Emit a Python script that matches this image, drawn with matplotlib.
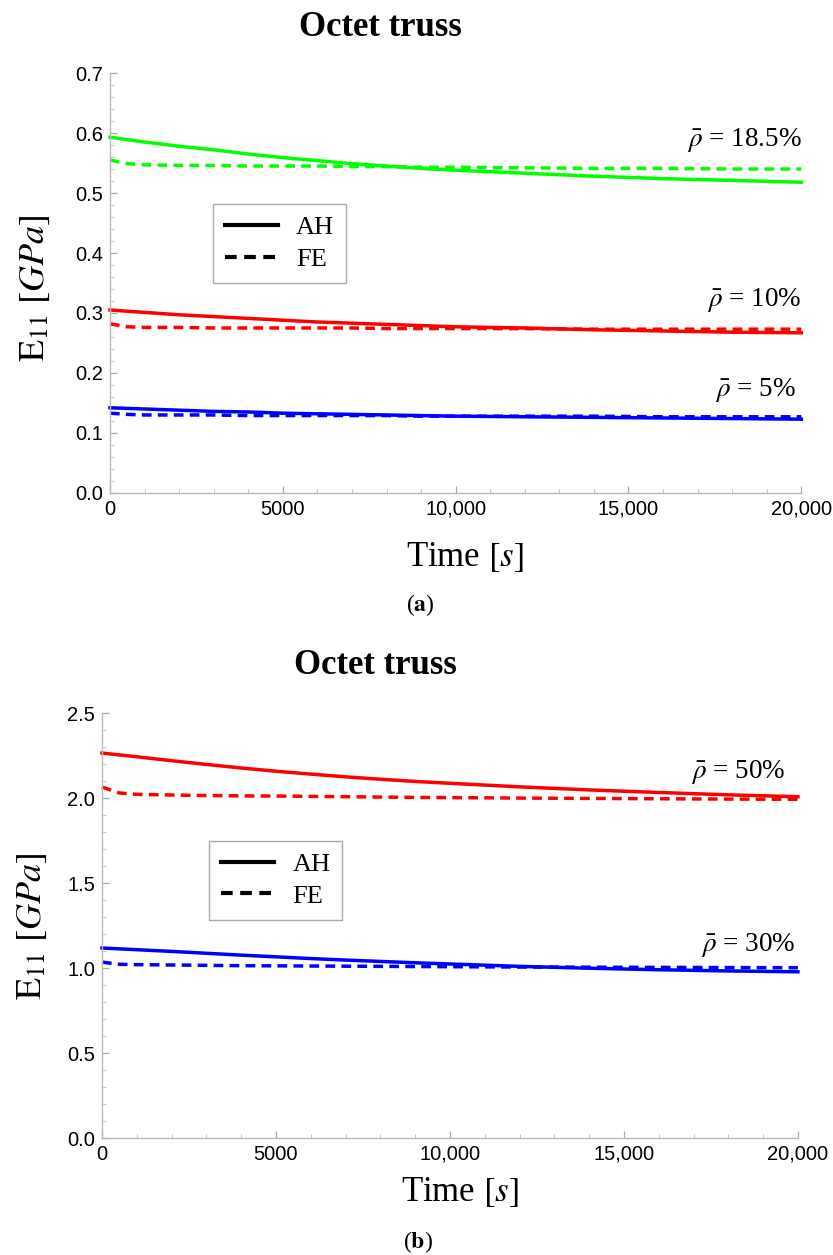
import numpy as np
import matplotlib
matplotlib.use("Agg")
import matplotlib.pyplot as plt
from matplotlib.lines import Line2D
from matplotlib.ticker import MultipleLocator

plt.rcParams["mathtext.fontset"] = "stix"

SANS = ["Liberation Sans", "DejaVu Sans"]
SERIF = ["Liberation Serif", "DejaVu Serif"]

# time grid (s)
time_s = [0, 500, 1000, 2000, 3000, 4000, 5000, 6000, 7000, 8000,
          9000, 10000, 12000, 14000, 16000, 18000, 20000]

# (a) E11 [GPa]
a_185_ah = [0.593, 0.589, 0.585, 0.578, 0.572, 0.565, 0.559, 0.554, 0.549,
            0.545, 0.541, 0.538, 0.533, 0.528, 0.524, 0.521, 0.518]
a_185_fe = [0.555, 0.549, 0.547, 0.546, 0.546, 0.545, 0.545, 0.545, 0.544,
            0.544, 0.543, 0.543, 0.542, 0.541, 0.541, 0.540, 0.540]
a_10_ah = [0.305, 0.303, 0.301, 0.297, 0.294, 0.291, 0.288, 0.285, 0.283,
           0.281, 0.279, 0.277, 0.275, 0.272, 0.270, 0.268, 0.267]
a_10_fe = [0.282, 0.277, 0.276, 0.276, 0.275, 0.275, 0.275, 0.275, 0.275,
           0.274, 0.274, 0.274, 0.274, 0.273, 0.273, 0.273, 0.273]
a_5_ah = [0.142, 0.141, 0.140, 0.138, 0.136, 0.135, 0.133, 0.132, 0.131,
          0.130, 0.129, 0.128, 0.127, 0.126, 0.125, 0.124, 0.123]
a_5_fe = [0.133, 0.131, 0.130, 0.130, 0.130, 0.129, 0.129, 0.129, 0.129,
          0.129, 0.128, 0.128, 0.128, 0.128, 0.127, 0.127, 0.127]

# (b) E11 [GPa]
b_50_ah = [2.265, 2.254, 2.243, 2.220, 2.198, 2.177, 2.158, 2.141, 2.125,
           2.111, 2.098, 2.087, 2.066, 2.048, 2.033, 2.019, 2.008]
b_50_fe = [2.065, 2.030, 2.022, 2.018, 2.015, 2.013, 2.012, 2.010, 2.008,
           2.006, 2.004, 2.003, 2.000, 1.998, 1.996, 1.994, 1.993]
b_30_ah = [1.118, 1.113, 1.108, 1.098, 1.087, 1.076, 1.066, 1.056, 1.047,
           1.039, 1.031, 1.024, 1.010, 0.999, 0.990, 0.983, 0.978]
b_30_fe = [1.035, 1.022, 1.020, 1.018, 1.016, 1.014, 1.013, 1.012, 1.011,
           1.010, 1.009, 1.008, 1.006, 1.005, 1.004, 1.003, 1.002]

x_ticks = [0, 5000, 10000, 15000, 20000]
x_tick_labels = ["0", "5000", "10,000", "15,000", "20,000"]

GREEN = "#00ff00"
RED = "#ff0000"
BLUE = "#0000ff"
DASH = (0, (2.8, 1.8))
LW = 2.5


def style_axes(ax, ymax, ystep, yminor):
    ax.set_xlim(0, 20000)
    ax.set_ylim(0, ymax)
    for s in ("top", "right"):
        ax.spines[s].set_visible(False)
    for s in ("left", "bottom"):
        ax.spines[s].set_color("#b8b8b8")
        ax.spines[s].set_linewidth(1.0)
    ax.set_xticks(x_ticks)
    ax.set_xticklabels(x_tick_labels)
    ax.xaxis.set_minor_locator(MultipleLocator(1000))
    ax.yaxis.set_major_locator(MultipleLocator(ystep))
    ax.yaxis.set_minor_locator(MultipleLocator(yminor))
    ax.set_yticklabels(["{:.1f}".format(v) for v in ax.get_yticks()])
    ax.tick_params(which="major", direction="in", length=5, width=0.9,
                   color="#a8a8a8", labelsize=14.5, pad=5)
    ax.tick_params(which="minor", direction="in", length=3, width=0.7,
                   color="#c4c4c4")
    for lab in ax.get_xticklabels() + ax.get_yticklabels():
        lab.set_family(SANS)


def add_legend(ax, anchor):
    handles = [Line2D([], [], color="black", lw=LW + 0.5, ls="-"),
               Line2D([], [], color="black", lw=LW + 0.5, ls=DASH)]
    leg = ax.legend(handles, ["AH", "FE"], loc="upper left",
                    bbox_to_anchor=anchor, borderaxespad=0, fancybox=False,
                    edgecolor="#a8a8a8", framealpha=1, handlelength=2.0,
                    prop={"family": SERIF, "size": 19}, labelspacing=0.3,
                    borderpad=0.45, handletextpad=0.7)
    leg.get_frame().set_linewidth(1.0)


fig = plt.figure(figsize=(8.33, 12.55), dpi=100)
lab_kw = dict(ha="right", va="center", fontsize=19.5, family=SERIF)

# ---- (a)
ax1 = fig.add_axes([0.132, 0.6072, 0.830, 0.3346])
ax1.plot(time_s, a_185_ah, color=GREEN, lw=LW, clip_on=False)
ax1.plot(time_s, a_185_fe, color=GREEN, lw=LW, ls=DASH, clip_on=False)
ax1.plot(time_s, a_10_ah, color=RED, lw=LW, clip_on=False)
ax1.plot(time_s, a_10_fe, color=RED, lw=LW, ls=DASH, clip_on=False)
ax1.plot(time_s, a_5_ah, color=BLUE, lw=LW, clip_on=False)
ax1.plot(time_s, a_5_fe, color=BLUE, lw=LW, ls=DASH, clip_on=False)
style_axes(ax1, 0.7, 0.1, 0.02)
add_legend(ax1, (0.149, 0.688))
ax1.text(20000, 0.588, r"$\bar{\rho}$ = 18.5%", **lab_kw)
ax1.text(20000, 0.322, r"$\bar{\rho}$ = 10%", **lab_kw)
ax1.text(19850, 0.172, r"$\bar{\rho}$ = 5%", **lab_kw)

fig.text(0.457, 0.978, "Octet truss", ha="center", va="center",
         fontsize=25, fontweight="bold", family=SERIF)
fig.text(0.558, 0.556, r"Time $[s]$", ha="center", va="center",
         fontsize=25, family=SERIF)
fig.text(0.042, 0.770, r"$\mathrm{E}_{11}\ [GPa]$", ha="center",
         va="center", rotation=90, fontsize=26)
fig.text(0.505, 0.518, r"($\mathbf{a}$)", ha="center", va="center",
         fontsize=17, family=SERIF)

# ---- (b)
ax2 = fig.add_axes([0.1224, 0.0932, 0.8355, 0.3386])
ax2.plot(time_s, b_50_ah, color=RED, lw=LW, clip_on=False)
ax2.plot(time_s, b_50_fe, color=RED, lw=LW, ls=DASH, clip_on=False)
ax2.plot(time_s, b_30_ah, color=BLUE, lw=LW, clip_on=False)
ax2.plot(time_s, b_30_fe, color=BLUE, lw=LW, ls=DASH, clip_on=False)
style_axes(ax2, 2.5, 0.5, 0.1)
add_legend(ax2, (0.154, 0.699))
ax2.text(19650, 2.153, r"$\bar{\rho}$ = 50%", **lab_kw)
ax2.text(19940, 1.135, r"$\bar{\rho}$ = 30%", **lab_kw)

fig.text(0.451, 0.470, "Octet truss", ha="center", va="center",
         fontsize=25, fontweight="bold", family=SERIF)
fig.text(0.552, 0.050, r"Time $[s]$", ha="center", va="center",
         fontsize=25, family=SERIF)
fig.text(0.038, 0.262, r"$\mathrm{E}_{11}\ [GPa]$", ha="center",
         va="center", rotation=90, fontsize=26)
fig.text(0.502, 0.0104, r"($\mathbf{b}$)", ha="center", va="center",
         fontsize=17, family=SERIF)

fig.savefig("out.png", dpi=100, facecolor="white")
